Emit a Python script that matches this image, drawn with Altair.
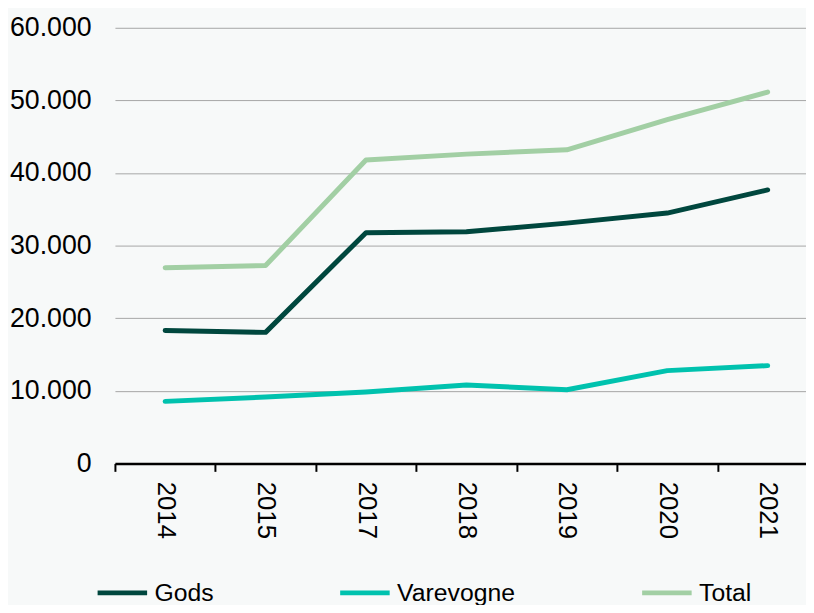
import altair as alt
import pandas as pd

years = ["2014", "2015", "2017", "2018", "2019", "2020", "2021"]
gods = [18300, 18050, 31780, 31900, 33100, 34480, 37670]
varevogne = [8550, 9150, 9850, 10800, 10150, 12780, 13470]
total = [26950, 27250, 41780, 42600, 43200, 47350, 51150]
series = ["Gods", "Varevogne", "Total"]
colors = ["#00473e", "#00c2ae", "#a2cfa4"]

rows = []
for name, vals in zip(series, [gods, varevogne, total]):
    for y, v in zip(years, vals):
        rows.append({"year": y, "value": v, "series": name})
df = pd.DataFrame(rows)

FONT = "Liberation Sans"

chart = (
    alt.Chart(df)
    .mark_line(strokeWidth=5, strokeCap="round", strokeJoin="round")
    .encode(
        x=alt.X(
            "year:N",
            sort=years,
            title=None,
            scale=alt.Scale(type="band", range=[0, 710], paddingInner=0, paddingOuter=0),
            axis=alt.Axis(
                labelAngle=90,
                labelFontSize=26,
                labelFont=FONT,
                labelColor="#000000",
                labelPadding=10,
                tickColor="#000000",
                tickSize=8,
                tickWidth=2,
                tickBand="extent",
                domainColor="#000000",
                domainWidth=2.5,
                grid=False,
            ),
        ),
        y=alt.Y(
            "value:Q",
            title=None,
            scale=alt.Scale(domain=[0, 60000], nice=False),
            axis=alt.Axis(
                values=[0, 10000, 20000, 30000, 40000, 50000, 60000],
                labelExpr="replace(format(datum.value, ','), ',', '.')",
                labelFontSize=27,
                labelFont=FONT,
                labelColor="#000000",
                labelPadding=24,
                ticks=False,
                domain=False,
                grid=True,
                gridColor="#a6a6a6",
                gridWidth=1,
            ),
        ),
        color=alt.Color(
            "series:N",
            sort=series,
            scale=alt.Scale(domain=series, range=colors),
            legend=alt.Legend(
                title=None,
                orient="none",
                legendX=-20,
                legendY=543,
                direction="horizontal",
                symbolType="stroke",
                symbolSize=2500,
                symbolStrokeWidth=5,
                labelFontSize=25,
                labelFont=FONT,
                labelColor="#000000",
                labelOffset=5,
                columnPadding=117,
                labelLimit=300,
            ),
        ),
    )
    .properties(
        width=698,
        height=440,
        padding={"left": 108, "top": 17, "right": 0, "bottom": 140},
        autosize=alt.AutoSizeParams(type="none"),
        background="#f7f9f9",
    )
    .configure_view(stroke=None)
)

chart.save("out.html", embed_options={"renderer": "svg", "actions": False})
